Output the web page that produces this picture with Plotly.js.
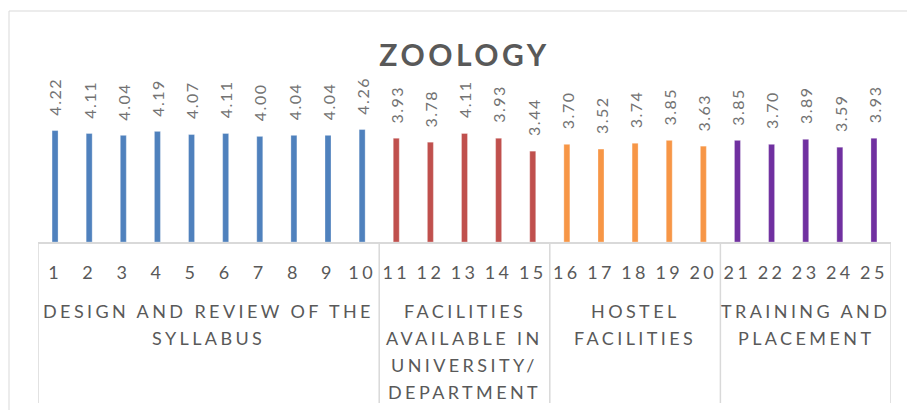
<!DOCTYPE html>
<html>
<head>
<meta charset="utf-8">
<script src="https://cdn.plot.ly/plotly-3.0.1.min.js"></script>
<style>
  html, body { margin: 0; padding: 0; background: #fff; }
  #chart { width: 907px; height: 410px; }
  .xtick text { letter-spacing: 3.4px; }
  .annotation-text[style*="font-size: 16px"] { letter-spacing: 1.5px; }
  .annotation-text[style*="font-size: 18px"] { letter-spacing: 3.4px; }
  .gtitle { letter-spacing: 3.5px; }
</style>
</head>
<body>
<div id="chart"></div>
<script>
// ---- data ----
const categories = ["1","2","3","4","5","6","7","8","9","10","11","12","13","14","15","16","17","18","19","20","21","22","23","24","25"];
const values = [4.22, 4.11, 4.04, 4.19, 4.07, 4.11, 4.00, 4.04, 4.04, 4.26,
                3.93, 3.78, 4.11, 3.93, 3.44,
                3.70, 3.52, 3.74, 3.85, 3.63,
                3.85, 3.70, 3.89, 3.59, 3.93];
const groupLines = [
  ["DESIGN AND REVIEW OF THE", "SYLLABUS"],
  ["FACILITIES", "AVAILABLE IN", "UNIVERSITY/", "DEPARTMENT"],
  ["HOSTEL", "FACILITIES"],
  ["TRAINING AND", "PLACEMENT"]
];
const groupSizes = [10, 5, 5, 5];
const groupColors = ["#4F81BD", "#C0504D", "#F79646", "#7030A0"];
const chartTitle = "ZOOLOGY";

// ---- layout constants (pixels) ----
const W = 907, H = 410;
const mL = 38, mR = 16, mT = 110, mB = 168;
const plotH = H - mT - mB;
const plotW = W - mL - mR;
const py = p => (H - mB - p) / plotH;      // pixel y -> paper y
const px = p => (p - mL) / plotW;          // pixel x -> paper x

const txtGray = "#595959";
const font = "Lato, 'Open Sans', sans-serif";

// colors per bar
const barColors = [];
groupSizes.forEach((n, g) => { for (let i = 0; i < n; i++) barColors.push(groupColors[g]); });

const trace = {
  type: "bar",
  x: categories,
  y: values,
  marker: { color: barColors, line: { color: "rgba(255,255,255,0.6)", width: 0.5 } },
  hoverinfo: "skip"
};

const annotations = [];
// data labels (x given as category index)
categories.forEach((c, i) => {
  annotations.push({
    x: i, y: values[i], xref: "x", yref: "y",
    text: values[i].toFixed(2),
    showarrow: false, textangle: -90,
    xanchor: "center", yanchor: "bottom", yshift: 13,
    font: { family: font, size: 16, color: "#737373" }
  });
});

// group labels & dividers
const shapes = [];
let start = 0;
const lineCenters = [311, 338, 365, 392];
groupSizes.forEach((n, g) => {
  const center = start + (n - 1) / 2;
  groupLines[g].forEach((ln, k) => {
    annotations.push({
      x: center, y: py(lineCenters[k]), xref: "x", yref: "paper",
      text: ln, showarrow: false, xanchor: "center", yanchor: "middle",
      font: { family: font, size: 18, color: txtGray }
    });
  });
  start += n;
});
const bounds = [-0.5];
{ let s = -0.5; groupSizes.forEach(n => { s += n; bounds.push(s); }); }
bounds.forEach(b => {
  shapes.push({
    type: "line", xref: "x", yref: "paper",
    x0: b, x1: b, y0: 0, y1: py(403),
    line: { color: "#D9D9D9", width: 1.5 }
  });
});
// outer chart frame
shapes.push({
  type: "rect", xref: "paper", yref: "paper",
  x0: px(9), x1: px(W + 10), y0: py(11), y1: py(H + 10),
  line: { color: "#D9D9D9", width: 1 }, fillcolor: "rgba(0,0,0,0)"
});

const layout = {
  width: W, height: H,
  margin: { l: mL, r: mR, t: mT, b: mB },
  paper_bgcolor: "#fff", plot_bgcolor: "#fff",
  showlegend: false,
  bargap: 0.824,
  title: {
    text: "<b>" + chartTitle + "</b>",
    x: 0.5, xref: "paper", y: 1 - 55 / H, yref: "container", yanchor: "middle",
    font: { family: font, size: 30, color: txtGray }
  },
  xaxis: {
    type: "category",
    range: [-0.5, 24.5],
    showline: true, linecolor: "#D9D9D9", linewidth: 1.5,
    showgrid: false, zeroline: false, ticks: "",
    ticklabelstandoff: 14,
    tickfont: { family: font, size: 18, color: txtGray },
    fixedrange: true
  },
  yaxis: {
    range: [0, 5],
    visible: false, showgrid: false, zeroline: false,
    fixedrange: true
  },
  annotations: annotations,
  shapes: shapes
};

Plotly.newPlot("chart", [trace], layout, { displayModeBar: false, staticPlot: true });
</script>
</body>
</html>
